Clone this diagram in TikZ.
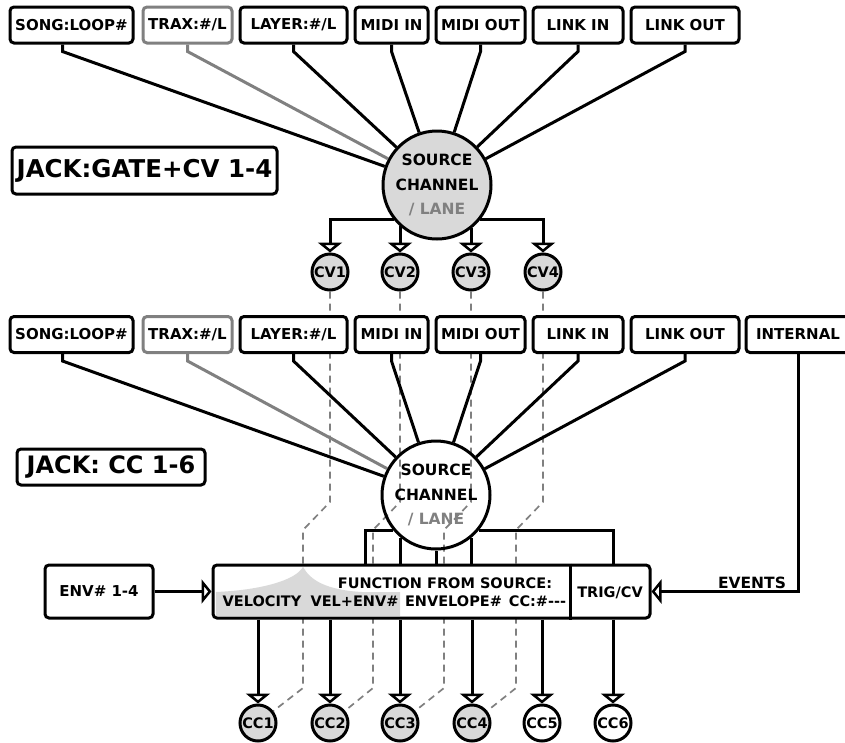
\documentclass[tikz,border=0pt]{standalone}
\usepackage{fontspec}
\setmainfont{DejaVu Sans}
\usetikzlibrary{arrows.meta,backgrounds}

\tikzset{
  lbl/.style={draw, line width=3pt, rounded corners=4pt, fill=white, inner sep=0pt,
    minimum height=36pt, font=\fontsize{15}{18}\selectfont\bfseries},
  jack/.style={lbl, font=\fontsize{24.5}{28}\selectfont\bfseries},
  src/.style={circle, draw, line width=3pt, minimum size=108pt, inner sep=0pt,
    align=center, font=\fontsize{15.5}{24.5}\selectfont\bfseries},
  port/.style={circle, draw, line width=3pt, minimum size=36pt, inner sep=0pt,
    font=\fontsize{14.5}{15}\selectfont\bfseries},
  ftxt/.style={inner sep=0pt, font=\fontsize{14.5}{17}\selectfont\bfseries},
  wire/.style={line width=3pt},
  feed/.style={wire, -{Triangle[open, length=10pt, width=24pt]}},
  thru/.style={gray, line width=1.7pt, dash pattern=on 7pt off 5pt}
}

\begin{document}
\begin{tikzpicture}[x=1pt,y=1pt]
\useasboundingbox (0,0) rectangle (845,-742);

\node[lbl, minimum width=123pt] (song1) at (71.5,-25) {SONG:LOOP\#};
\node[lbl, minimum width=89pt, draw=gray] (trax1) at (187.5,-25) {TRAX:\#/L};
\node[lbl, minimum width=107pt] (layer1) at (293.5,-25) {LAYER:\#/L};
\node[lbl, minimum width=73pt] (midiin1) at (391.5,-25) {MIDI IN};
\node[lbl, minimum width=89pt] (midiout1) at (480.5,-25) {MIDI OUT};
\node[lbl, minimum width=90pt] (linkin1) at (578,-25) {LINK IN};
\node[lbl, minimum width=108pt] (linkout1) at (685,-25) {LINK OUT};

\node[jack, minimum width=265pt, minimum height=47pt] (jack1) at (144.5,-170.5) {JACK:GATE+CV 1-4};

\node[src, fill=black!15] (src1) at (437,-185) {SOURCE\\CHANNEL\\{\color{gray}/ LANE}};

\node[port, fill=black!15] (cv1) at (330,-272) {CV1};
\node[port, fill=black!15] (cv2) at (400,-272) {CV2};
\node[port, fill=black!15] (cv3) at (471,-272) {CV3};
\node[port, fill=black!15] (cv4) at (543,-272) {CV4};

\node[lbl, minimum width=123pt] (song2) at (71.5,-334.5) {SONG:LOOP\#};
\node[lbl, minimum width=89pt, draw=gray] (trax2) at (187.5,-334.5) {TRAX:\#/L};
\node[lbl, minimum width=107pt] (layer2) at (293.5,-334.5) {LAYER:\#/L};
\node[lbl, minimum width=73pt] (midiin2) at (391.5,-334.5) {MIDI IN};
\node[lbl, minimum width=89pt] (midiout2) at (480.5,-334.5) {MIDI OUT};
\node[lbl, minimum width=90pt] (linkin2) at (578,-334.5) {LINK IN};
\node[lbl, minimum width=108pt] (linkout2) at (685,-334.5) {LINK OUT};
\node[lbl, minimum width=104pt] (int2) at (798,-334.5) {INTERNAL};

\node[jack, minimum width=188pt, font=\fontsize{24}{28}\selectfont\bfseries] (jack2) at (111,-467) {JACK: CC 1-6};

\node[src] (src2) at (436,-495) {SOURCE\\CHANNEL\\{\color{gray}/ LANE}};

\node[lbl, minimum width=108pt, minimum height=53pt] (env) at (99,-591.5) {ENV\# 1-4};
\node[lbl, minimum width=437pt, minimum height=53pt] (fbox) at (431.5,-591.5) {};
\fill[black!15] (215.8,-592) .. controls (262,-590) and (296,-580) .. (303,-566.8)
  .. controls (310,-580) and (326,-590) .. (362,-592) -- (400,-592) -- (400,-616.2)
  -- (215.8,-616.2) -- cycle;
\draw[wire] (fbox.north -| 570,0) -- (fbox.south -| 570,0);
\node[ftxt, anchor=base] (fhead) at (445,-588) {FUNCTION FROM SOURCE:};
\node[ftxt, anchor=base] (fvel) at (262,-606) {VELOCITY};
\node[ftxt, anchor=base] (fvenv) at (354.5,-606) {VEL+ENV\#};
\node[ftxt, anchor=base] (fenv) at (453.5,-606) {ENVELOPE\#};
\node[ftxt, anchor=base] (fcc) at (537.5,-606) {CC:\#-{}-{}-};
\node[ftxt, anchor=base] (ftrig) at (610,-597) {TRIG/CV};
\node[ftxt, anchor=base, font=\fontsize{15.5}{17}\selectfont\bfseries] (evt) at (752,-588) {EVENTS};

\node[port, fill=black!15] (cc1) at (258,-723) {CC1};
\node[port, fill=black!15] (cc2) at (330,-723) {CC2};
\node[port, fill=black!15] (cc3) at (400,-723) {CC3};
\node[port, fill=black!15] (cc4) at (472,-723) {CC4};
\node[port] (cc5) at (542,-723) {CC5};
\node[port] (cc6) at (613,-723) {CC6};

\draw[wire] ([xshift=-9pt]song1.south) -- ++(0,-7) -- (src1);
\draw[wire, gray] (trax1.south) -- ++(0,-7) -- (src1);
\foreach \b in {layer1,midiin1,midiout1,linkin1,linkout1}
  \draw[wire] (\b.south) -- ++(0,-7) -- (src1);

\draw[feed] (src1.219) -| (cv1.north);
\draw[feed] (src1.227 -| cv2.north) -- (cv2.north);
\draw[feed] (src1.309 -| cv3.north) -- (cv3.north);
\draw[feed] (src1.321) -| (cv4.north);

\draw[wire] ([xshift=-9pt]song2.south) -- ++(0,-7) -- (src2);
\draw[wire, gray] (trax2.south) -- ++(0,-7) -- (src2);
\foreach \b in {layer2,midiin2,midiout2,linkin2,linkout2}
  \draw[wire] (\b.south) -- ++(0,-7) -- (src2);

\draw[wire] (src2.220) -| (fbox.north -| 365,0);
\draw[wire] (src2.230) -- (src2.230 |- fbox.north);
\draw[wire] (src2.south) -- (src2.south |- fbox.north);
\draw[wire] (src2.310) -- (src2.310 |- fbox.north);
\draw[wire] (src2.320) -| (fbox.north -| 613,0);

\draw[feed] (env) -- (fbox);
\draw[feed] (int2.south) |- (fbox.east);

\foreach \i in {1,...,6}
  \draw[feed] (fbox.south -| cc\i.north) -- (cc\i.north);

\begin{scope}[on background layer]
\draw[thru] (cv1) -- ++(0,-230) -- ++(-27,-28) -- ++(0,-158) -- (cc1);
\draw[thru] (cv2) -- ++(0,-230) -- ++(-27,-28) -- ++(0,-158) -- (cc2);
\draw[thru] (cv3) -- ++(0,-230) -- ++(-27,-28) -- ++(0,-158) -- (cc3);
\draw[thru] (cv4) -- ++(0,-230) -- ++(-27,-28) -- ++(0,-158) -- (cc4);
\end{scope}
\end{tikzpicture}
\end{document}
